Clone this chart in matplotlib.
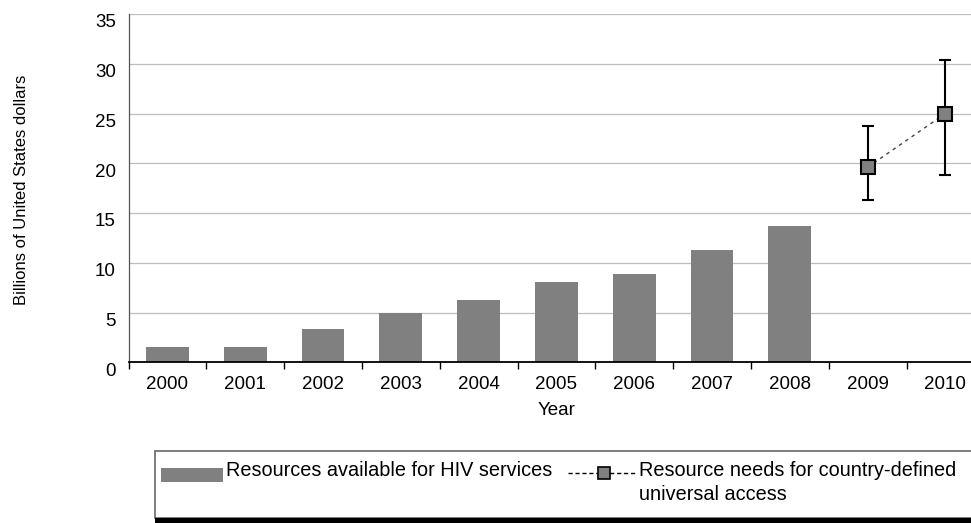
import numpy as np
import matplotlib
matplotlib.use("Agg")
import matplotlib.pyplot as plt
import matplotlib.transforms as mtrans
from matplotlib.patches import Rectangle
from matplotlib.lines import Line2D

plt.rcParams['font.family'] = ['Liberation Sans', 'DejaVu Sans']

# Data
years = ['2000', '2001', '2002', '2003', '2004', '2005',
         '2006', '2007', '2008', '2009', '2010']
available = [1.5, 1.5, 3.3, 5.0, 6.3, 8.1, 8.9, 11.3, 13.7]
need_years = ['2009', '2010']
needs = [19.6, 25.0]
needs_low = [16.3, 18.8]
needs_high = [23.7, 30.4]

W, H = 971, 523
fig = plt.figure(figsize=(W / 100, H / 100), dpi=100)
ax = fig.add_axes([128.5 / W, 1 - 362.3 / H, 855.8 / W, (362.3 - 14) / H])

x_all = np.arange(len(years))
x_bar = x_all[:len(available)]
x_need = np.array([years.index(y) for y in need_years])

ax.bar(x_bar, available, width=0.55, color='#808080', zorder=2)

err = [np.array(needs) - np.array(needs_low), np.array(needs_high) - np.array(needs)]
ax.errorbar(x_need, needs, yerr=err, fmt='none', ecolor='black',
            elinewidth=1.5, capsize=4.5, capthick=1.5, zorder=3)
ax.plot(x_need, needs, linestyle=(0, (2.5, 3)), color='#444444', linewidth=1,
        marker='s', markersize=10.5, markerfacecolor='#808080',
        markeredgecolor='black', markeredgewidth=1.5, zorder=4)

ax.set_xlim(-0.5, len(years) - 0.5)
ax.set_ylim(0, 35)
ax.set_yticks(range(0, 36, 5))
ax.yaxis.grid(True, color='#bdbdbd', linewidth=0.9, zorder=0)
ax.set_axisbelow(True)
ax.tick_params(axis='y', length=0, pad=9, labelsize=13.5)
# y labels sit a little under their gridlines in the original
shift = mtrans.ScaledTranslation(0, -5 / 72, fig.dpi_scale_trans)
for lab in ax.get_yticklabels():
    lab.set_transform(lab.get_transform() + shift)

ax.set_xticks(x_all)
ax.set_xticklabels(years)
ax.set_xticks(np.arange(-0.5, len(years), 1), minor=True)
ax.tick_params(axis='x', which='major', length=0, pad=10, labelsize=13.5)
ax.tick_params(axis='x', which='minor', length=5, width=1, color='black')

for s in ['top', 'right']:
    ax.spines[s].set_visible(False)
ax.spines['left'].set_color('#555555')
ax.spines['left'].set_linewidth(0.9)
ax.spines['bottom'].set_linewidth(1.3)

ax.set_xlabel('Year', fontsize=13.5, labelpad=6)
fig.text(22 / W, 1 - 190 / H, 'Billions of United States dollars', rotation=90,
         ha='center', va='center', fontsize=12)

# Legend box
fig.add_artist(Rectangle((155 / W, 1 - 518 / H), (W + 10) / W, (518 - 451) / H,
                         transform=fig.transFigure, facecolor='white',
                         edgecolor='#666666', linewidth=1.2))
fig.add_artist(Rectangle((155 / W, 0), (W + 10) / W, (523 - 518) / H,
                         transform=fig.transFigure, facecolor='black',
                         edgecolor='none'))
fig.add_artist(Rectangle((161 / W, 1 - 482 / H), 62 / W, 14 / H,
                         transform=fig.transFigure, facecolor='#808080',
                         edgecolor='none'))
fig.text(226 / W, 1 - 471 / H, 'Resources available for HIV services',
         ha='left', va='center', fontsize=14.3)
fig.add_artist(Line2D([568 / W, 635 / W], [1 - 473 / H, 1 - 473 / H],
                      transform=fig.transFigure, color='black', linewidth=1,
                      linestyle=(0, (3, 2))))
fig.add_artist(Line2D([604 / W], [1 - 473 / H], transform=fig.transFigure,
                      marker='s', markersize=8, markerfacecolor='#808080',
                      markeredgecolor='black', markeredgewidth=1.2))
fig.text(639 / W, 1 - 471 / H, 'Resource needs for country-defined',
         ha='left', va='center', fontsize=14.3)
fig.text(639 / W, 1 - 494 / H, 'universal access',
         ha='left', va='center', fontsize=14.3)

fig.savefig('out.png', dpi=100)
